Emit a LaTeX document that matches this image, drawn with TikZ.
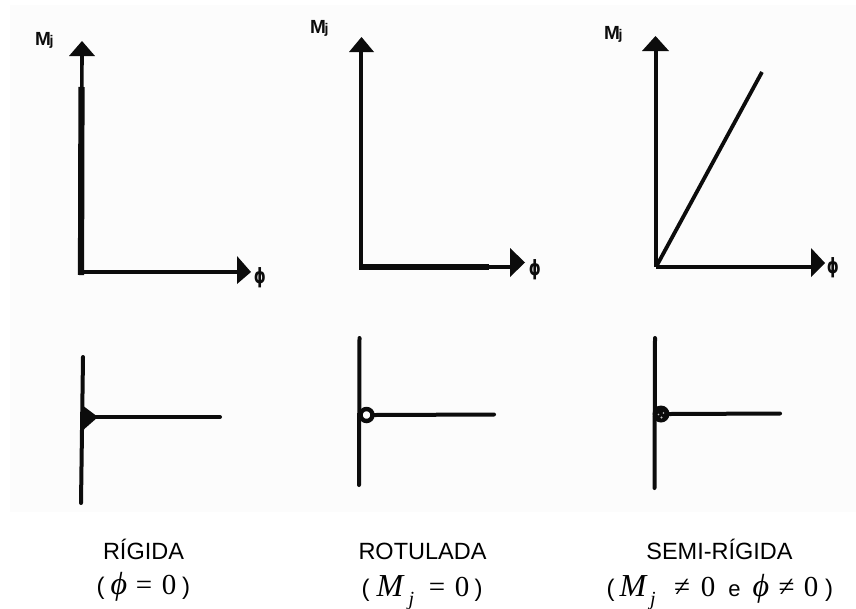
\documentclass[tikz,border=0pt]{standalone}
\usepackage{fontspec}
\setmainfont{Liberation Sans}
\newfontfamily\serifface{Liberation Serif}
\newfontfamily\symface{DejaVu Sans}
\definecolor{ink}{HTML}{0C0C0C}
\definecolor{paper}{HTML}{FCFCFC}
\tikzset{
  thinax/.style={draw=ink,line width=3.6pt},
  thickax/.style={draw=ink,line width=6.2pt},
  member/.style={draw=ink,line width=4pt,line cap=round},
  head/.style={fill=ink,draw=none},
  mlab/.style={inner sep=0pt,anchor=base west,text=ink,font=\fontsize{19}{19}\selectfont\bfseries},
  jlab/.style={inner sep=0pt,anchor=base west,text=ink,font=\fontsize{14}{14}\selectfont\bfseries},
  plab/.style={inner sep=0pt,text=ink,xscale=0.72,transform shape,font=\symface\fontsize{21}{21}\selectfont\bfseries},
  capt/.style={inner sep=0pt,anchor=base,text=black,font=\fontsize{23.5}{24}\selectfont},
  paren/.style={inner sep=0pt,anchor=base,text=black,font=\fontsize{24}{24}\selectfont},
  mth/.style={inner sep=0pt,anchor=base,text=black,font=\serifface\fontsize{29}{29}\selectfont},
  mthi/.style={inner sep=0pt,anchor=base,text=black,font=\serifface\itshape\fontsize{32}{32}\selectfont},
  subj/.style={inner sep=0pt,anchor=base,text=black,font=\serifface\itshape\fontsize{20}{20}\selectfont},
  conj/.style={inner sep=0pt,anchor=base,text=black,font=\fontsize{22}{22}\selectfont},
}
\begin{document}
\begin{tikzpicture}[x=1pt,y=-1pt]
\useasboundingbox (0,0) rectangle (856,608);
\fill[white] (0,0) rectangle (856,608);
\fill[paper] (10,5) rectangle (856,512);
% chart 1
\coordinate (oa) at (81,272); \coordinate (ya) at (82,54); \coordinate (xa) at (238,272);
\coordinate (ta) at (81.5,87); \coordinate (ob) at (81,275);
\draw[thinax] (oa) -- (ya);
\draw[thinax] (79,272) -- (xa);
\draw[thickax] (ob) -- (ta);
\fill[head] (82,41) -- (95,56) -- (69,56) -- cycle;
\fill[head] (251,272) -- (237,256) -- (237,284) -- cycle;
\node[mlab] (ma) at (35,45.5) {M};
\node[jlab] (ja) at (49.5,45.5) {j};
\node[plab] (pa) at (260,278) {ϕ};
% chart 2
\coordinate (pb) at (361,267); \coordinate (yb) at (361,50); \coordinate (xb) at (511,267);
\coordinate (tb) at (489,267); \coordinate (sb) at (359.4,267);
\draw[thinax] (pb) -- (yb);
\draw[thinax] (pb) -- (xb);
\draw[thickax] (sb) -- (tb);
\fill[head] (361.5,37) -- (374,52) -- (349,52) -- cycle;
\fill[head] (525,262.5) -- (510,248) -- (510,277) -- cycle;
\node[mlab] (mb) at (310,33) {M};
\node[jlab] (jb) at (324.5,33) {j};
\node[plab] (phb) at (535,270) {ϕ};
% chart 3
\coordinate (oc) at (656,267); \coordinate (yc) at (656,48); \coordinate (xc) at (812,267); \coordinate (lc) at (762,72);
\draw[thinax] (oc) -- (yc);
\draw[thinax] (oc) -- (xc);
\draw[draw=ink,line width=3.8pt] (oc) -- (lc);
\fill[head] (655.5,36) -- (669,51) -- (642,51) -- cycle;
\fill[head] (825,263) -- (811,248) -- (811,277) -- cycle;
\node[mlab] (mc) at (604,39) {M};
\node[jlab] (jc) at (618.5,39) {j};
\node[plab] (phc) at (833,268) {ϕ};
% joint 1
\coordinate (a1) at (83,357); \coordinate (a2) at (81,503); \coordinate (a3) at (92,417); \coordinate (a4) at (220,417);
\draw[member] (a1) -- (a2);
\draw[member] (a3) -- (a4);
\fill[head] (82,405) -- (98,417) -- (82,431) -- cycle;
% joint 2
\coordinate (b1) at (359.5,338); \coordinate (b2) at (359,485); \coordinate (b4) at (494,414.5);
\draw[member] (b1) -- (b2);
\node[circle,draw=ink,line width=4.4pt,fill=white,minimum size=12pt,inner sep=0pt] (hb) at (366.5,415) {};
\draw[member] (hb.east) -- (b4);
% joint 3
\coordinate (c1) at (655,338); \coordinate (c2) at (654.5,488); \coordinate (c4) at (780,413.5);
\draw[member] (c1) -- (c2);
\node[circle,fill=ink,minimum size=17pt,inner sep=0pt] (hc) at (661,414) {};
\draw[member] (hc.east) -- (c4);
\fill[white!75!ink] (658.5,414.5) circle (0.9) (663.5,413) circle (0.9) (661.5,417.5) circle (1.1);
% captions
\node[capt] (c1a) at (143.5,559) {RÍGIDA};
\node[capt] (c2a) at (422.5,559) {ROTULADA};
\node[capt] (c3a) at (719.5,559) {SEMI-RÍGIDA};
% formula 1
\node[paren] (f1a) at (100.5,594) {(};
\node[mthi] (f1b) at (119,594) {ϕ};
\node[mth] (f1c) at (144,594) {=};
\node[mth] (f1d) at (169,594) {0};
\node[paren] (f1e) at (186,594) {)};
% formula 2
\node[paren] (f2a) at (365.5,596) {(};
\node[mthi] (f2b) at (390,596) {M};
\node[subj] (f2c) at (411.5,605) {j};
\node[mth] (f2d) at (437,596) {=};
\node[mth] (f2e) at (462,596) {0};
\node[paren] (f2f) at (478.5,596) {)};
% formula 3
\node[paren] (f3a) at (610.5,596) {(};
\node[mthi] (f3b) at (633,596) {M};
\node[subj] (f3c) at (653,605) {j};
\node[mth] (f3d) at (682,596) {≠};
\node[mth] (f3e) at (708,596) {0};
\node[conj] (f3f) at (734.5,596) {e};
\node[mthi] (f3g) at (761,596) {ϕ};
\node[mth] (f3h) at (786.5,596) {≠};
\node[mth] (f3i) at (811,596) {0};
\node[paren] (f3j) at (829,596) {)};
\end{tikzpicture}
\end{document}
